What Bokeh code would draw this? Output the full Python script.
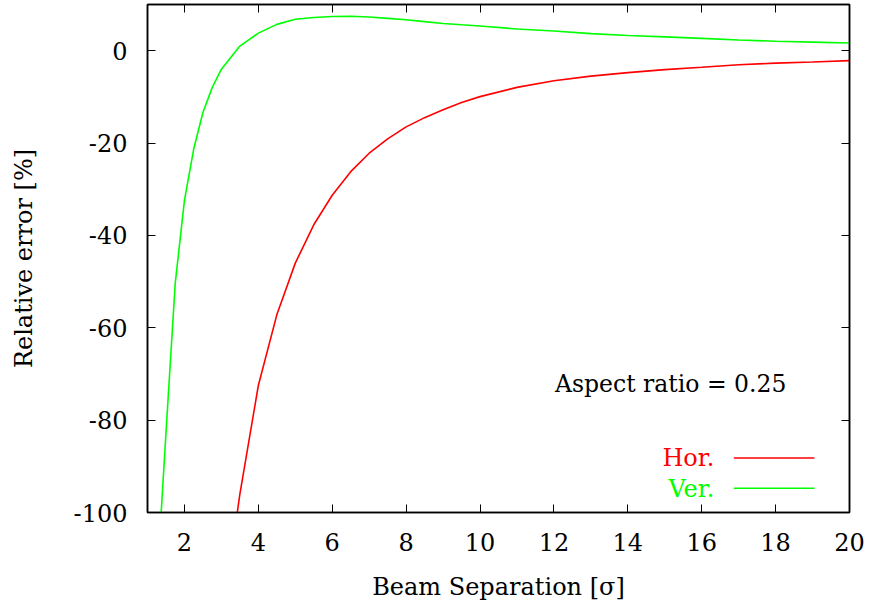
from bokeh.plotting import figure
from bokeh.models import (Range1d, FixedTicker, LinearAxis, Label, Arrow,
                          PrintfTickFormatter, CustomJSTickFormatter)
from bokeh.embed import file_html
from bokeh.resources import INLINE

# ---- data ----
hor_x = [3.43, 3.5, 4.0, 4.5, 5.0, 5.5, 6.0, 6.5, 7.0, 7.5, 8.0, 8.5, 9.0, 9.5, 10.0,
         11.0, 12.0, 13.0, 14.0, 15.0, 16.0, 17.0, 18.0, 19.0, 20.0]
hor_y = [-100.0, -96.0, -72.5, -57.2, -46.0, -37.7, -31.3, -26.2, -22.2, -19.1, -16.5,
         -14.5, -12.8, -11.2, -9.95, -7.95, -6.5, -5.5, -4.75, -4.1, -3.6, -3.05, -2.7,
         -2.45, -2.16]

ver_x = [1.37, 1.5, 1.75, 2.0, 2.25, 2.5, 2.75, 3.0, 3.5, 4.0, 4.5, 5.0, 5.5, 6.0, 6.5,
         7.0, 7.5, 8.0, 8.5, 9.0, 9.5, 10.0, 11.0, 12.0, 13.0, 14.0, 15.0, 16.0, 17.0,
         18.0, 19.0, 20.0]
ver_y = [-100.0, -82.8, -50.4, -32.4, -21.3, -13.4, -8.0, -4.0, 1.0, 3.8, 5.7, 6.8, 7.2,
         7.4, 7.45, 7.3, 7.0, 6.7, 6.3, 5.9, 5.6, 5.35, 4.7, 4.25, 3.7, 3.3, 3.0, 2.66,
         2.3, 2.05, 1.85, 1.66]

x_ticks = [2, 4, 6, 8, 10, 12, 14, 16, 18, 20]
y_ticks = [-100, -80, -60, -40, -20, 0]

FONT = "DejaVu Serif"
FS = "24px"

p = figure(width=869, height=609, output_backend="svg", toolbar_location=None,
           x_range=Range1d(1, 20), y_range=Range1d(-100, 10),
           min_border_left=147, min_border_right=20, min_border_top=4,
           min_border_bottom=97)
p.grid.visible = False
p.background_fill_color = "white"
p.border_fill_color = "white"
p.outline_line_color = "black"
p.outline_line_width = 1.5

for ax, ticks in ((p.xaxis[0], x_ticks), (p.yaxis[0], y_ticks)):
    ax.ticker = FixedTicker(ticks=ticks)
    ax.formatter = PrintfTickFormatter(format="%d")
    ax.major_tick_in = 8
    ax.major_tick_out = 0
    ax.minor_tick_line_color = None
    ax.major_tick_line_color = "black"
    ax.axis_line_color = "black"
    ax.axis_line_width = 1.5
    ax.major_label_text_font = FONT
    ax.major_label_text_font_size = FS
    ax.major_label_text_color = "black"
    ax.axis_label_text_font = FONT
    ax.axis_label_text_font_size = FS
    ax.axis_label_text_font_style = "normal"
    ax.axis_label_text_color = "black"

p.xaxis[0].axis_label = "Beam Separation [σ]"
p.xaxis[0].major_label_standoff = 20
p.xaxis[0].axis_label_standoff = 19
p.yaxis[0].axis_label = "Relative error [%]"
p.yaxis[0].major_label_standoff = 20
p.yaxis[0].axis_label_standoff = 33

# mirrored ticks on top and right (no labels)
blank = CustomJSTickFormatter(code="return ''")
top = LinearAxis(ticker=FixedTicker(ticks=x_ticks), formatter=blank, major_tick_in=8,
                 major_tick_out=0, minor_tick_line_color=None, major_label_standoff=0,
                 axis_line_color="black", axis_line_width=1.5)
right = LinearAxis(ticker=FixedTicker(ticks=y_ticks), formatter=blank, major_tick_in=8,
                   major_tick_out=0, minor_tick_line_color=None, major_label_standoff=0,
                   axis_line_color="black", axis_line_width=1.5)
p.add_layout(top, "above")
p.add_layout(right, "right")

p.line(hor_x, hor_y, line_color="#ff0000", line_width=1.6)
p.line(ver_x, ver_y, line_color="#00ff00", line_width=1.6)

# key: labels on the left, line samples on the right (gnuplot style)
p.add_layout(Arrow(end=None, x_start=16.87, y_start=-88.2, x_end=19.05, y_end=-88.2,
                   line_color="#ff0000", line_width=1.6))
p.add_layout(Arrow(end=None, x_start=16.87, y_start=-94.75, x_end=19.05, y_end=-94.75,
                   line_color="#00ff00", line_width=1.6))
p.add_layout(Label(x=16.34, y=-88.3, text="Hor.", text_align="right",
                   text_baseline="middle", text_font=FONT, text_font_size=FS,
                   text_color="#ff0000"))
p.add_layout(Label(x=16.34, y=-95.0, text="Ver.", text_align="right",
                   text_baseline="middle", text_font=FONT, text_font_size=FS,
                   text_color="#00ff00"))
p.add_layout(Label(x=12.03, y=-72.2, text="Aspect ratio = 0.25", text_align="left",
                   text_baseline="alphabetic", text_font=FONT, text_font_size="23.5px",
                   text_color="black"))

open("out.html", "w").write(file_html(p, INLINE))
